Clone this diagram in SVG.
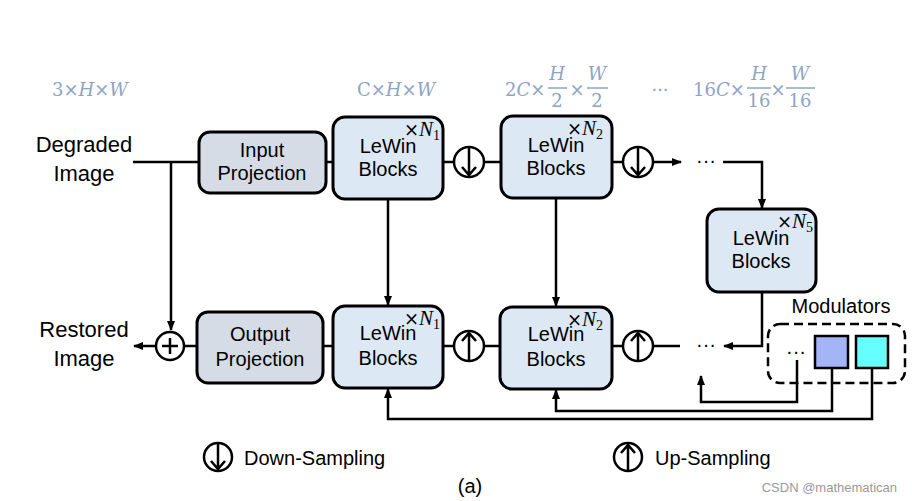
<svg xmlns="http://www.w3.org/2000/svg" width="912" height="501" viewBox="0 0 912 501">
<defs>
<marker id="ah" viewBox="0 0 10 10" refX="9" refY="5" markerWidth="10" markerHeight="10" markerUnits="userSpaceOnUse" orient="auto">
<path d="M0,1 L10,5 L0,9 Z" fill="#000"/>
</marker>
<style>
.ln{fill:none;stroke:#000;stroke-width:2.5}
.proj{fill:#d6dce6;stroke:#000;stroke-width:3}
.lw{fill:#dde8f5;stroke:#000;stroke-width:3}
.t{font-family:"Liberation Sans",Arial,sans-serif;font-size:20px;fill:#000;text-anchor:middle}
.ts{font-family:"Liberation Sans",Arial,sans-serif;font-size:20px;fill:#000;text-anchor:start}
.big{font-size:22px}
.sup{font-family:"Liberation Serif","DejaVu Serif",serif;font-size:21px;fill:#000}
.x{font-family:"DejaVu Serif",serif;font-size:18px}
.dim{font-family:"DejaVu Serif","Liberation Serif",serif;font-size:18px;fill:#8fa3c4}
.dm{font-family:"DejaVu Serif","Liberation Serif",serif;font-size:18px;fill:#8fa3c4;text-anchor:middle}
.fl{stroke:#8fa3c4;stroke-width:1.5}
.circ{fill:#fff;stroke:#000;stroke-width:2.5}
</style>
</defs>
<rect width="912" height="501" fill="#fff"/>

<g id="dims">
<text class="dim" x="52" y="96">3×<tspan font-style="italic">H</tspan>×<tspan font-style="italic">W</tspan></text>
<text class="dim" x="357" y="96">C×<tspan font-style="italic">H</tspan>×<tspan font-style="italic">W</tspan></text>
<text class="dim" x="505" y="96">2<tspan font-style="italic">C</tspan>×</text>
<text class="dm" x="557" y="80" font-style="italic">H</text>
<line class="fl" x1="548" y1="88" x2="567" y2="88"/>
<text class="dm" x="557" y="107">2</text>
<text class="dm" x="577" y="96">×</text>
<text class="dm" x="597" y="80" font-style="italic">W</text>
<line class="fl" x1="587" y1="88" x2="608" y2="88"/>
<text class="dm" x="597" y="107">2</text>
<text class="dm" x="660" y="96">···</text>
<text class="dim" x="693" y="96">16<tspan font-style="italic">C</tspan>×</text>
<text class="dm" x="759" y="80" font-style="italic">H</text>
<line class="fl" x1="747" y1="88" x2="771" y2="88"/>
<text class="dm" x="759" y="107">16</text>
<text class="dm" x="778" y="96">×</text>
<text class="dm" x="800" y="80" font-style="italic">W</text>
<line class="fl" x1="786" y1="88" x2="815" y2="88"/>
<text class="dm" x="800" y="107">16</text>
</g>

<g id="labels">
<text class="t big" x="84" y="152">Degraded</text>
<text class="t big" x="84" y="181">Image</text>
<text class="t big" x="84" y="337">Restored</text>
<text class="t big" x="84" y="366">Image</text>
</g>

<g id="connectors">
<path class="ln" d="M133,162 H199"/>
<path class="ln" d="M171,162 V330" marker-end="url(#ah)"/>
<path class="ln" d="M156,346 H134" marker-end="url(#ah)"/>
<path class="ln" d="M184,346 H197"/>
<path class="ln" d="M326,162 H333"/>
<path class="ln" d="M323,346 H333"/>
<path class="ln" d="M443,162 H454 M484,162 H501"/>
<path class="ln" d="M612,162 H623"/>
<path class="ln" d="M653,162 H681" marker-end="url(#ah)"/>
<path class="ln" d="M443,346 H454 M484,346 H500"/>
<path class="ln" d="M612,346 H623 M653,346 H680"/>
<path class="ln" d="M388,199 V305" marker-end="url(#ah)"/>
<path class="ln" d="M556,198 V306" marker-end="url(#ah)"/>
<path class="ln" d="M723,162 H762 V208" marker-end="url(#ah)"/>
<path class="ln" d="M762,292 V346 H724" marker-end="url(#ah)"/>
<path class="ln" d="M797,360 V402 H701 V376" marker-end="url(#ah)"/>
<path class="ln" d="M832,368 V411 H556 V390" marker-end="url(#ah)"/>
<path class="ln" d="M872,368 V419 H388 V389" marker-end="url(#ah)"/>
</g>

<g id="dots">
<text class="t" x="706" y="167">···</text>
<text class="t" x="706" y="351">···</text>
<text class="t" x="796" y="358">···</text>
</g>

<g id="input-projection">
<rect class="proj" x="199" y="132" width="127" height="61" rx="11"/>
<text class="t" x="262" y="157">Input</text>
<text class="t" x="262" y="180">Projection</text>
</g>
<g id="output-projection">
<rect class="proj" x="197" y="312" width="126" height="71" rx="11"/>
<text class="t" x="260" y="341">Output</text>
<text class="t" x="260" y="366">Projection</text>
</g>

<g id="enc1">
<rect class="lw" x="333" y="117" width="110" height="82" rx="12"/>
<text class="t" x="388" y="153">LeWin</text>
<text class="t" x="388" y="176">Blocks</text>
<text class="sup" x="404" y="136"><tspan class="x">×</tspan><tspan font-style="italic">N</tspan><tspan font-size="14" dy="4">1</tspan></text>
</g>
<g id="enc2">
<rect class="lw" x="501" y="116" width="111" height="82" rx="12"/>
<text class="t" x="556" y="152">LeWin</text>
<text class="t" x="556" y="175">Blocks</text>
<text class="sup" x="567" y="135"><tspan class="x">×</tspan><tspan font-style="italic">N</tspan><tspan font-size="14" dy="4">2</tspan></text>
</g>
<g id="bottleneck">
<rect class="lw" x="707" y="209" width="109" height="83" rx="12"/>
<text class="t" x="761" y="245">LeWin</text>
<text class="t" x="761" y="268">Blocks</text>
<text class="sup" x="777" y="228"><tspan class="x">×</tspan><tspan font-style="italic">N</tspan><tspan font-size="14" dy="4">5</tspan></text>
</g>
<g id="dec1">
<rect class="lw" x="333" y="306" width="110" height="82" rx="12"/>
<text class="t" x="388" y="340">LeWin</text>
<text class="t" x="388" y="365">Blocks</text>
<text class="sup" x="404" y="325"><tspan class="x">×</tspan><tspan font-style="italic">N</tspan><tspan font-size="14" dy="4">1</tspan></text>
</g>
<g id="dec2">
<rect class="lw" x="500" y="307" width="112" height="82" rx="12"/>
<text class="t" x="556" y="341">LeWin</text>
<text class="t" x="556" y="366">Blocks</text>
<text class="sup" x="567" y="326"><tspan class="x">×</tspan><tspan font-style="italic">N</tspan><tspan font-size="14" dy="4">2</tspan></text>
</g>

<g id="down1">
<circle class="circ" cx="469" cy="162" r="15"/>
<path class="ln" d="M469,148 V175 M462,167 L469,175 L476,167"/>
</g>
<g id="down2">
<circle class="circ" cx="638" cy="162" r="15"/>
<path class="ln" d="M638,148 V175 M631,167 L638,175 L645,167"/>
</g>
<g id="up1">
<circle class="circ" cx="469" cy="346" r="15"/>
<path class="ln" d="M469,360 V333 M462,341 L469,333 L476,341"/>
</g>
<g id="up2">
<circle class="circ" cx="638" cy="346" r="15"/>
<path class="ln" d="M638,360 V333 M631,341 L638,333 L645,341"/>
</g>
<g id="add">
<circle class="circ" cx="170" cy="346" r="14"/>
<path class="ln" d="M162,346 H178 M170,338 V354" stroke-width="2"/>
</g>

<g id="modulators">
<rect x="768" y="324" width="137" height="59" rx="12" fill="none" stroke="#000" stroke-width="2.5" stroke-dasharray="9,5"/>
<text class="t" x="841" y="313">Modulators</text>
<rect x="815" y="336" width="33" height="32" fill="#a3b4f7" stroke="#000" stroke-width="2.5"/>
<rect x="856" y="336" width="32" height="32" fill="#66ffff" stroke="#000" stroke-width="2.5"/>
</g>

<g id="legend">
<circle class="circ" cx="218" cy="457" r="14"/>
<path class="ln" d="M218,444 V469 M211,461 L218,469 L225,461"/>
<text class="ts" x="244" y="465">Down-Sampling</text>
<circle class="circ" cx="628" cy="457" r="14"/>
<path class="ln" d="M628,470 V445 M621,453 L628,445 L635,453"/>
<text class="ts" x="655" y="465">Up-Sampling</text>
<text class="t" x="470" y="493">(a)</text>
<text x="897" y="492" text-anchor="end" font-family="'Liberation Sans',Arial,sans-serif" font-size="13" fill="#999">CSDN @mathematican</text>
</g>
</svg>
